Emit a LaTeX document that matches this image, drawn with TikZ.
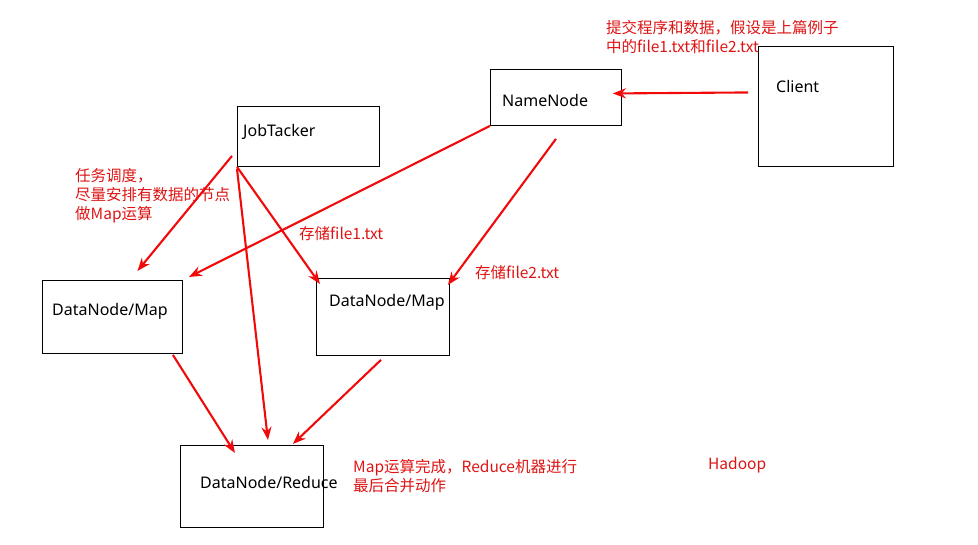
\documentclass[tikz,border=0pt]{standalone}
\usepackage{fontspec}
\setmainfont{Noto Sans}
\newfontfamily\cjk{Noto Sans CJK SC}
\usetikzlibrary{arrows.meta}
\definecolor{notered}{RGB}{222,20,20}
\definecolor{flowred}{RGB}{240,10,10}

\begin{document}
\begin{tikzpicture}
[
	x=1pt, y=-1pt,
	box/.style={draw,line width=0.9pt,inner sep=0pt,anchor=north west},
	boxtext/.style={anchor=base west,inner sep=0pt,font=\fontsize{16}{19}\selectfont},
	note/.style={anchor=north west,inner sep=0pt,align=left,text=notered,font=\cjk\fontsize{15.5}{19}\selectfont},
	flow/.style={draw=flowred,line width=2.1pt,-{Stealth[length=13pt,width=10pt]}}
]
	\useasboundingbox (0,0) rectangle (978,544);

	% boxes
	\node[box,minimum width=135pt,minimum height=120pt] (client) at (758,46) {};
	\node[box,minimum width=131pt,minimum height=56pt] (namenode) at (490,69) {};
	\node[box,minimum width=142pt,minimum height=60pt] (jobtacker) at (237,106) {};
	\node[box,minimum width=140pt,minimum height=73pt] (mapA) at (42,280) {};
	\node[box,minimum width=133pt,minimum height=77pt] (mapB) at (316,278) {};
	\node[box,minimum width=143pt,minimum height=82pt] (reduce) at (180,445) {};

	% box labels
	\node[boxtext] (clientlbl) at (776,92) {Client};
	\node[boxtext] (namenodelbl) at (502,106) {NameNode};
	\node[boxtext] (jobtackerlbl) at (243,136) {JobTacker};
	\node[boxtext] (mapAlbl) at (52,315) {DataNode/Map};
	\node[boxtext] (mapBlbl) at (329,306) {DataNode/Map};
	\node[boxtext] (reducelbl) at (200,488) {DataNode/Reduce};

	% notes
	\node[note] (submit) at (606,20) {提交程序和数据，假设是上篇例子\\中的file1.txt和file2.txt};
	\node[note] (schedule) at (75,168) {任务调度，\\尽量安排有数据的节点\\做Map运算};
	\node[note] (store1) at (299,226) {存储file1.txt};
	\node[note] (store2) at (475,265) {存储file2.txt};
	\node[note] (merge) at (353,459) {Map运算完成，Reduce机器进行\\最后合并动作};
	\node[note] (hadoop) at (708,457) {Hadoop};

	% connectors
	\draw[flow] ([shift={(-10,-14)}]client.west) -- ([shift={(-9,-4)}]namenode.east);
	\draw[flow] (namenode.south west) -- ([shift={(6,-3)}]mapA.north east);
	\draw[flow] ([shift={(0,13)}]namenode.south) -- ([shift={(-2,7)}]mapB.north east);
	\draw[flow] ([shift={(-5,-11)}]jobtacker.south west) -- ([shift={(25,-9)}]mapA.north);
	\draw[flow] (jobtacker.south west) -- ([shift={(4,6)}]mapB.north west);
	\draw[flow] ([shift={(0,2)}]jobtacker.south west) -- ([shift={(16,-5)}]reduce.north);
	\draw[flow] ([shift={(-10,1)}]mapA.south east) -- ([shift={(-17,8)}]reduce.north);
	\draw[flow] ([shift={(-2,4)}]mapB.south) -- ([shift={(-31,-1)}]reduce.north east);

\end{tikzpicture}
\end{document}
